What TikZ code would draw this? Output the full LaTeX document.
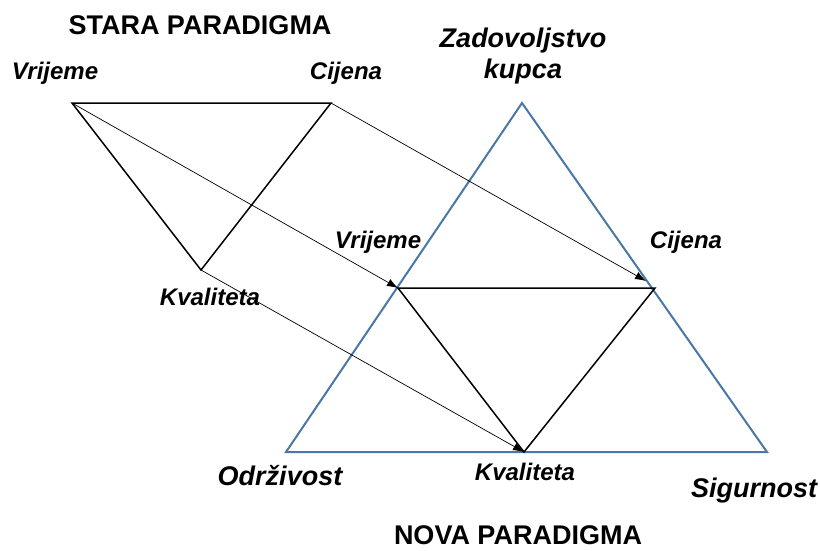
\documentclass[tikz,border=0pt]{standalone}
\usepackage{fontspec}
\setmainfont{Liberation Sans}
\usetikzlibrary{positioning,arrows.meta}
\definecolor{steel}{RGB}{74,119,164}

\begin{document}
\begin{tikzpicture}[x=1pt,y=-1pt]
    \tikzstyle{note}=[inner sep=0,font=\fontsize{24}{28}\selectfont\bfseries\itshape]
    \tikzstyle{big}=[inner sep=0,font=\fontsize{27}{31}\selectfont\bfseries\itshape]
    \tikzstyle{head}=[inner sep=0,font=\fontsize{27}{31}\selectfont\bfseries]
    \tikzstyle{old}=[line width=1.5]
    \tikzstyle{map}=[line width=0.7,-{Latex[length=11,width=8]}]
    \useasboundingbox (0,0) rectangle (820,550);
    {
        % old triangle
        \coordinate (ov) at (72,103);
        \coordinate (oc) at (331,103);
        \coordinate (ok) at (201,270);
        % new triangle
        \coordinate (top) at (522,103);
        \coordinate (bl) at (286,452);
        \coordinate (br) at (767,452);
        \coordinate (nv) at (398,288);
        \coordinate (nc) at (655,288);
        \coordinate (nk) at (524,452);
        \coordinate (ncend) at (646,281);

        \draw[steel,line width=2] (top) -- (br) -- (bl) -- cycle;
        \draw[old] (ov) -- (oc) -- (ok) -- cycle;
        \draw[old] (nv) -- (nc) -- (nk) -- cycle;

        \draw[map] (ov) -- (nv);
        \draw[map] (oc) -- (ncend);
        \draw[map] (ok) -- (nk);

        \node[head] (stara) at (200,25) {STARA PARADIGMA};
        \node[head] (nova) at (518,535) {NOVA PARADIGMA};
        \node[big,align=center] (zad) at (523,56) {Zadovoljstvo\\kupca};
        \node[note] (lov) at (55,73) {Vrijeme};
        \node[note] (loc) at (346,73) {Cijena};
        \node[note] (lok) at (210,297) {Kvaliteta};
        \node[note] (lnv) at (378,242) {Vrijeme};
        \node[note] (lnc) at (686,242) {Cijena};
        \node[note] (lnk) at (525,472) {Kvaliteta};
        \node[big] (odr) at (280,476) {Održivost};
        \node[big] (sig) at (754,491) {Sigurnost};
    }
\end{tikzpicture}
\end{document}
